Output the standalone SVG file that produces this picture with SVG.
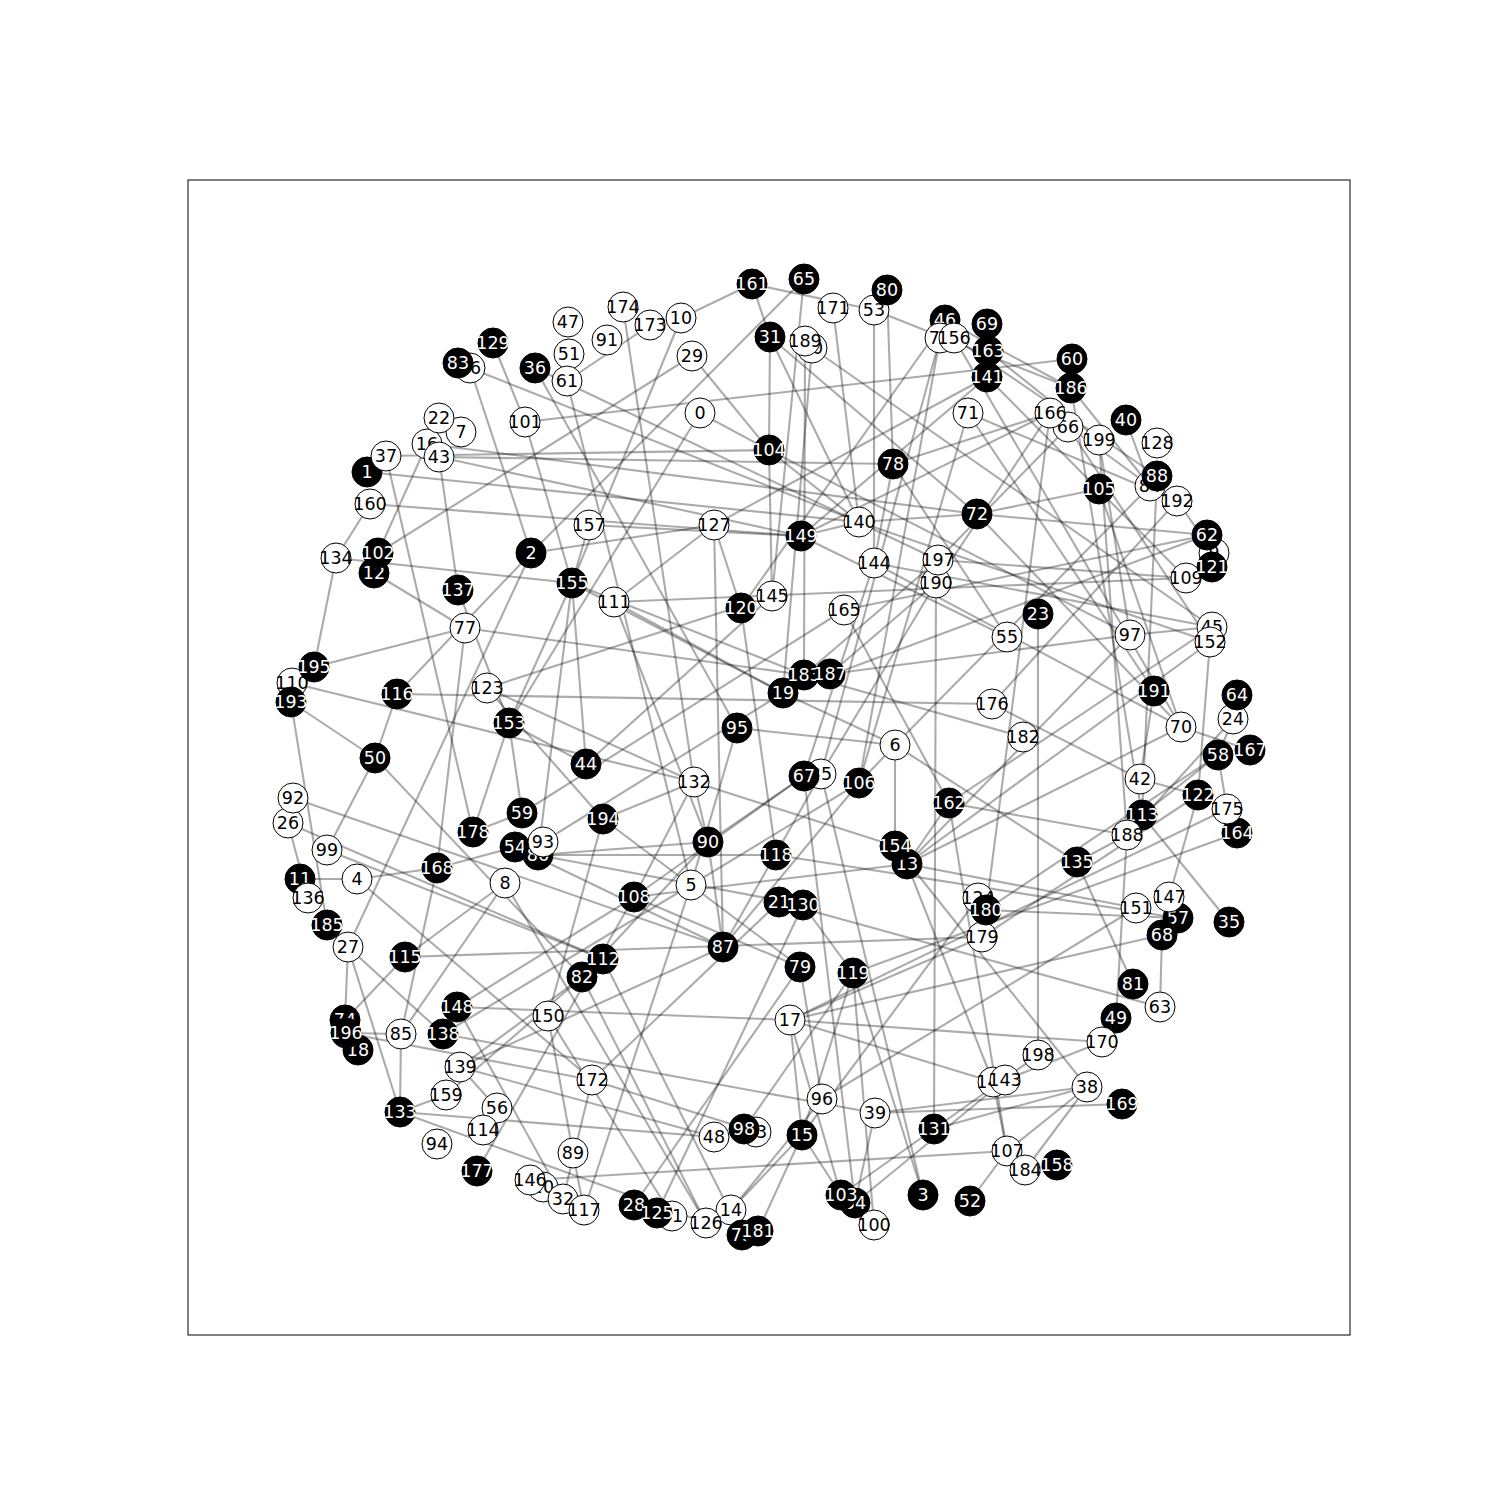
<svg xmlns="http://www.w3.org/2000/svg" width="1500" height="1500" viewBox="0 0 1500 1500">
<style>
.e line{stroke:#000;stroke-opacity:0.33;stroke-width:2.1}
.w circle{fill:#fff;stroke:#000;stroke-width:1}
.b circle{fill:#000;stroke:#000;stroke-width:1}
text{font-family:"DejaVu Sans","Liberation Sans",sans-serif;font-size:17.5px;text-anchor:middle;dominant-baseline:central}
.w text{fill:#000}
.b text{fill:#fff}
</style>
<rect x="188" y="180" width="1162" height="1155" fill="#fff" stroke="#000" stroke-width="1"/>
<g id="edges" class="e">
<line x1="681" y1="318" x2="752" y2="284"/>
<line x1="752" y1="284" x2="770" y2="337"/>
<line x1="752" y1="284" x2="874" y2="310"/>
<line x1="770" y1="337" x2="769" y2="450"/>
<line x1="769" y1="450" x2="772" y2="596"/>
<line x1="692" y1="356" x2="769" y2="450"/>
<line x1="700" y1="413" x2="769" y2="450"/>
<line x1="804" y1="279" x2="531" y2="553"/>
<line x1="804" y1="279" x2="772" y2="596"/>
<line x1="650" y1="325" x2="567" y2="381"/>
<line x1="470" y1="368" x2="531" y2="553"/>
<line x1="470" y1="368" x2="859" y2="522"/>
<line x1="493" y1="343" x2="525" y2="422"/>
<line x1="525" y1="422" x2="572" y2="583"/>
<line x1="525" y1="422" x2="1072" y2="359"/>
<line x1="439" y1="457" x2="893" y2="464"/>
<line x1="386" y1="456" x2="769" y2="450"/>
<line x1="439" y1="457" x2="801" y2="536"/>
<line x1="367" y1="472" x2="859" y2="522"/>
<line x1="370" y1="504" x2="801" y2="536"/>
<line x1="336" y1="558" x2="370" y2="504"/>
<line x1="336" y1="558" x2="314" y2="667"/>
<line x1="336" y1="558" x2="572" y2="583"/>
<line x1="378" y1="553" x2="427" y2="444"/>
<line x1="378" y1="553" x2="692" y2="356"/>
<line x1="374" y1="573" x2="465" y2="628"/>
<line x1="386" y1="456" x2="473" y2="832"/>
<line x1="439" y1="457" x2="458" y2="590"/>
<line x1="458" y1="590" x2="509" y2="723"/>
<line x1="465" y1="628" x2="314" y2="667"/>
<line x1="465" y1="628" x2="804" y2="675"/>
<line x1="465" y1="628" x2="437" y2="868"/>
<line x1="531" y1="553" x2="348" y2="947"/>
<line x1="531" y1="553" x2="397" y2="694"/>
<line x1="681" y1="318" x2="572" y2="583"/>
<line x1="572" y1="583" x2="509" y2="723"/>
<line x1="572" y1="583" x2="538" y2="855"/>
<line x1="589" y1="525" x2="572" y2="583"/>
<line x1="531" y1="553" x2="714" y2="525"/>
<line x1="714" y1="525" x2="741" y2="608"/>
<line x1="714" y1="525" x2="723" y2="947"/>
<line x1="714" y1="525" x2="614" y2="602"/>
<line x1="714" y1="525" x2="987" y2="377"/>
<line x1="589" y1="525" x2="801" y2="536"/>
<line x1="535" y1="368" x2="938" y2="560"/>
<line x1="535" y1="368" x2="737" y2="728"/>
<line x1="427" y1="444" x2="977" y2="514"/>
<line x1="700" y1="413" x2="509" y2="723"/>
<line x1="812" y1="348" x2="783" y2="693"/>
<line x1="805" y1="341" x2="804" y2="675"/>
<line x1="770" y1="337" x2="859" y2="522"/>
<line x1="770" y1="337" x2="977" y2="514"/>
<line x1="812" y1="348" x2="1212" y2="627"/>
<line x1="833" y1="308" x2="859" y2="522"/>
<line x1="874" y1="310" x2="874" y2="563"/>
<line x1="887" y1="290" x2="893" y2="464"/>
<line x1="893" y1="464" x2="874" y2="563"/>
<line x1="893" y1="464" x2="1050" y2="413"/>
<line x1="893" y1="464" x2="1007" y2="637"/>
<line x1="769" y1="450" x2="859" y2="522"/>
<line x1="769" y1="450" x2="1130" y2="635"/>
<line x1="801" y1="536" x2="859" y2="522"/>
<line x1="801" y1="536" x2="1050" y2="413"/>
<line x1="801" y1="536" x2="1007" y2="637"/>
<line x1="859" y1="522" x2="977" y2="514"/>
<line x1="859" y1="522" x2="1210" y2="642"/>
<line x1="614" y1="602" x2="1186" y2="578"/>
<line x1="938" y1="560" x2="1068" y2="427"/>
<line x1="940" y1="338" x2="859" y2="783"/>
<line x1="945" y1="320" x2="821" y2="774"/>
<line x1="945" y1="320" x2="741" y2="608"/>
<line x1="968" y1="413" x2="859" y2="783"/>
<line x1="987" y1="377" x2="801" y2="536"/>
<line x1="977" y1="514" x2="1099" y2="489"/>
<line x1="830" y1="674" x2="936" y2="583"/>
<line x1="830" y1="674" x2="1130" y2="635"/>
<line x1="977" y1="514" x2="1181" y2="727"/>
<line x1="1071" y1="388" x2="1142" y2="815"/>
<line x1="1071" y1="388" x2="1150" y2="486"/>
<line x1="1050" y1="413" x2="936" y2="583"/>
<line x1="1050" y1="413" x2="986" y2="910"/>
<line x1="1068" y1="427" x2="1210" y2="642"/>
<line x1="1050" y1="413" x2="1150" y2="486"/>
<line x1="1099" y1="440" x2="1130" y2="635"/>
<line x1="1099" y1="440" x2="1127" y2="835"/>
<line x1="1126" y1="420" x2="1150" y2="486"/>
<line x1="1150" y1="486" x2="895" y2="745"/>
<line x1="1157" y1="476" x2="1142" y2="815"/>
<line x1="1177" y1="501" x2="992" y2="704"/>
<line x1="1177" y1="501" x2="1214" y2="553"/>
<line x1="1207" y1="535" x2="844" y2="610"/>
<line x1="783" y1="693" x2="1207" y2="535"/>
<line x1="987" y1="377" x2="1186" y2="578"/>
<line x1="1038" y1="614" x2="1038" y2="1055"/>
<line x1="1130" y1="635" x2="1212" y2="627"/>
<line x1="1212" y1="627" x2="874" y2="563"/>
<line x1="1210" y1="642" x2="1198" y2="795"/>
<line x1="1210" y1="642" x2="907" y2="864"/>
<line x1="1154" y1="691" x2="1140" y2="779"/>
<line x1="1154" y1="691" x2="968" y2="413"/>
<line x1="1181" y1="727" x2="874" y2="563"/>
<line x1="1181" y1="727" x2="954" y2="338"/>
<line x1="1181" y1="727" x2="907" y2="864"/>
<line x1="1181" y1="727" x2="1250" y2="750"/>
<line x1="1233" y1="719" x2="1218" y2="755"/>
<line x1="1233" y1="719" x2="1127" y2="835"/>
<line x1="1218" y1="755" x2="1142" y2="815"/>
<line x1="1218" y1="755" x2="1227" y2="809"/>
<line x1="1218" y1="755" x2="986" y2="910"/>
<line x1="1140" y1="779" x2="992" y2="704"/>
<line x1="1140" y1="779" x2="1198" y2="795"/>
<line x1="1198" y1="795" x2="982" y2="937"/>
<line x1="1198" y1="795" x2="1169" y2="897"/>
<line x1="1227" y1="809" x2="790" y2="1020"/>
<line x1="1237" y1="833" x2="853" y2="973"/>
<line x1="1142" y1="815" x2="1229" y2="922"/>
<line x1="1127" y1="835" x2="1077" y2="862"/>
<line x1="1127" y1="835" x2="949" y2="803"/>
<line x1="1116" y1="1018" x2="1127" y2="835"/>
<line x1="1133" y1="984" x2="1077" y2="862"/>
<line x1="1160" y1="1007" x2="779" y2="902"/>
<line x1="1162" y1="935" x2="1160" y2="1007"/>
<line x1="907" y1="864" x2="1136" y2="908"/>
<line x1="1162" y1="935" x2="790" y2="1020"/>
<line x1="1178" y1="918" x2="776" y2="855"/>
<line x1="1178" y1="918" x2="986" y2="910"/>
<line x1="397" y1="694" x2="992" y2="704"/>
<line x1="783" y1="693" x2="895" y2="745"/>
<line x1="804" y1="675" x2="1023" y2="737"/>
<line x1="804" y1="675" x2="938" y2="560"/>
<line x1="895" y1="745" x2="1077" y2="862"/>
<line x1="895" y1="745" x2="859" y2="783"/>
<line x1="895" y1="745" x2="895" y2="846"/>
<line x1="895" y1="745" x2="737" y2="728"/>
<line x1="804" y1="776" x2="874" y2="563"/>
<line x1="821" y1="774" x2="936" y2="583"/>
<line x1="804" y1="776" x2="855" y2="1203"/>
<line x1="821" y1="774" x2="923" y2="1195"/>
<line x1="804" y1="776" x2="708" y2="842"/>
<line x1="821" y1="774" x2="723" y2="947"/>
<line x1="859" y1="783" x2="723" y2="947"/>
<line x1="949" y1="803" x2="1212" y2="627"/>
<line x1="949" y1="803" x2="907" y2="864"/>
<line x1="936" y1="583" x2="934" y2="1129"/>
<line x1="949" y1="803" x2="844" y2="610"/>
<line x1="907" y1="864" x2="1130" y2="635"/>
<line x1="949" y1="803" x2="1007" y2="1151"/>
<line x1="907" y1="864" x2="993" y2="1082"/>
<line x1="800" y1="967" x2="822" y2="1099"/>
<line x1="853" y1="973" x2="803" y2="905"/>
<line x1="853" y1="973" x2="874" y2="1225"/>
<line x1="853" y1="973" x2="802" y2="1135"/>
<line x1="853" y1="973" x2="923" y2="1195"/>
<line x1="790" y1="1020" x2="1102" y2="1042"/>
<line x1="790" y1="1020" x2="982" y2="937"/>
<line x1="790" y1="1020" x2="993" y2="1082"/>
<line x1="790" y1="1020" x2="802" y2="1135"/>
<line x1="790" y1="1020" x2="841" y2="1195"/>
<line x1="822" y1="1099" x2="1136" y2="908"/>
<line x1="822" y1="1099" x2="731" y2="1210"/>
<line x1="875" y1="1113" x2="1087" y2="1087"/>
<line x1="875" y1="1113" x2="855" y2="1203"/>
<line x1="934" y1="1129" x2="1087" y2="1087"/>
<line x1="802" y1="1135" x2="978" y2="898"/>
<line x1="802" y1="1135" x2="731" y2="1210"/>
<line x1="802" y1="1135" x2="758" y2="1231"/>
<line x1="802" y1="1135" x2="841" y2="1195"/>
<line x1="841" y1="1195" x2="1038" y2="1055"/>
<line x1="855" y1="1203" x2="1005" y2="1080"/>
<line x1="993" y1="1082" x2="1007" y2="1151"/>
<line x1="1005" y1="1080" x2="1102" y2="1042"/>
<line x1="1007" y1="1151" x2="1087" y2="1087"/>
<line x1="970" y1="1201" x2="1007" y2="1151"/>
<line x1="1087" y1="1087" x2="1025" y2="1170"/>
<line x1="1087" y1="1087" x2="895" y2="846"/>
<line x1="1122" y1="1104" x2="875" y2="1113"/>
<line x1="1057" y1="1165" x2="1025" y2="1170"/>
<line x1="744" y1="1129" x2="853" y2="973"/>
<line x1="530" y1="1180" x2="1007" y2="1151"/>
<line x1="582" y1="977" x2="706" y2="1223"/>
<line x1="548" y1="1016" x2="573" y2="1153"/>
<line x1="548" y1="1016" x2="672" y2="1216"/>
<line x1="457" y1="1007" x2="790" y2="1020"/>
<line x1="584" y1="1210" x2="691" y2="885"/>
<line x1="573" y1="1153" x2="584" y2="1210"/>
<line x1="563" y1="1199" x2="592" y2="1080"/>
<line x1="592" y1="1080" x2="756" y2="1132"/>
<line x1="603" y1="959" x2="742" y2="1235"/>
<line x1="634" y1="1205" x2="800" y2="967"/>
<line x1="657" y1="1213" x2="803" y2="905"/>
<line x1="779" y1="902" x2="592" y2="1080"/>
<line x1="706" y1="1223" x2="505" y2="883"/>
<line x1="586" y1="764" x2="772" y2="596"/>
<line x1="586" y1="764" x2="509" y2="723"/>
<line x1="586" y1="764" x2="572" y2="583"/>
<line x1="522" y1="813" x2="844" y2="610"/>
<line x1="603" y1="819" x2="694" y2="782"/>
<line x1="603" y1="819" x2="548" y2="1016"/>
<line x1="603" y1="819" x2="800" y2="967"/>
<line x1="603" y1="819" x2="487" y2="688"/>
<line x1="538" y1="855" x2="708" y2="842"/>
<line x1="538" y1="855" x2="776" y2="855"/>
<line x1="538" y1="855" x2="803" y2="905"/>
<line x1="543" y1="842" x2="783" y2="693"/>
<line x1="694" y1="782" x2="708" y2="842"/>
<line x1="694" y1="782" x2="634" y2="897"/>
<line x1="694" y1="782" x2="895" y2="846"/>
<line x1="694" y1="782" x2="623" y2="307"/>
<line x1="567" y1="381" x2="691" y2="885"/>
<line x1="737" y1="728" x2="691" y2="885"/>
<line x1="708" y1="842" x2="723" y2="947"/>
<line x1="708" y1="842" x2="582" y2="977"/>
<line x1="691" y1="885" x2="859" y2="783"/>
<line x1="634" y1="897" x2="804" y2="776"/>
<line x1="634" y1="897" x2="907" y2="864"/>
<line x1="634" y1="897" x2="800" y2="967"/>
<line x1="741" y1="608" x2="776" y2="855"/>
<line x1="572" y1="583" x2="804" y2="675"/>
<line x1="572" y1="583" x2="783" y2="693"/>
<line x1="614" y1="602" x2="783" y2="693"/>
<line x1="614" y1="602" x2="708" y2="842"/>
<line x1="487" y1="688" x2="772" y2="596"/>
<line x1="487" y1="688" x2="694" y2="782"/>
<line x1="292" y1="683" x2="694" y2="782"/>
<line x1="291" y1="702" x2="375" y2="758"/>
<line x1="291" y1="702" x2="327" y2="925"/>
<line x1="397" y1="694" x2="375" y2="758"/>
<line x1="509" y1="723" x2="473" y2="832"/>
<line x1="509" y1="723" x2="522" y2="813"/>
<line x1="473" y1="832" x2="522" y2="813"/>
<line x1="375" y1="758" x2="582" y2="977"/>
<line x1="375" y1="758" x2="327" y2="850"/>
<line x1="293" y1="798" x2="723" y2="947"/>
<line x1="288" y1="823" x2="603" y2="959"/>
<line x1="288" y1="823" x2="308" y2="898"/>
<line x1="327" y1="850" x2="603" y2="959"/>
<line x1="300" y1="879" x2="357" y2="879"/>
<line x1="357" y1="879" x2="437" y2="868"/>
<line x1="357" y1="879" x2="592" y2="1080"/>
<line x1="437" y1="868" x2="515" y2="847"/>
<line x1="437" y1="868" x2="401" y2="1034"/>
<line x1="401" y1="1034" x2="400" y2="1112"/>
<line x1="505" y1="883" x2="405" y2="957"/>
<line x1="405" y1="957" x2="345" y2="1020"/>
<line x1="505" y1="883" x2="401" y2="1034"/>
<line x1="405" y1="957" x2="982" y2="937"/>
<line x1="346" y1="1033" x2="401" y2="1034"/>
<line x1="346" y1="1033" x2="592" y2="1080"/>
<line x1="348" y1="947" x2="345" y2="1020"/>
<line x1="348" y1="947" x2="400" y2="1112"/>
<line x1="348" y1="947" x2="443" y2="1034"/>
<line x1="457" y1="1007" x2="634" y2="897"/>
<line x1="457" y1="1007" x2="563" y2="1199"/>
<line x1="443" y1="1034" x2="875" y2="1113"/>
<line x1="443" y1="1034" x2="691" y2="885"/>
<line x1="460" y1="1067" x2="582" y2="977"/>
<line x1="460" y1="1067" x2="723" y2="947"/>
<line x1="460" y1="1067" x2="714" y2="1137"/>
<line x1="460" y1="1067" x2="497" y2="1108"/>
<line x1="446" y1="1095" x2="400" y2="1112"/>
<line x1="446" y1="1095" x2="603" y2="959"/>
<line x1="400" y1="1112" x2="714" y2="1137"/>
<line x1="400" y1="1112" x2="706" y2="1223"/>
<line x1="477" y1="1171" x2="634" y2="897"/>
<line x1="515" y1="847" x2="723" y2="947"/>
<line x1="954" y1="338" x2="1157" y2="476"/>
<line x1="945" y1="320" x2="1071" y2="388"/>
<line x1="874" y1="310" x2="1071" y2="388"/>
<line x1="988" y1="351" x2="1099" y2="440"/>
<line x1="968" y1="413" x2="1177" y2="501"/>
<line x1="977" y1="514" x2="1207" y2="535"/>
<line x1="938" y1="560" x2="1186" y2="578"/>
<line x1="1099" y1="489" x2="1181" y2="727"/>
</g>
<g id="n0" class="w"><circle cx="700" cy="413" r="15"/><text x="700" y="413">0</text></g>
<g id="n1" class="b"><circle cx="367" cy="472" r="15"/><text x="367" y="472">1</text></g>
<g id="n2" class="b"><circle cx="531" cy="553" r="15"/><text x="531" y="553">2</text></g>
<g id="n3" class="b"><circle cx="923" cy="1195" r="15"/><text x="923" y="1195">3</text></g>
<g id="n4" class="w"><circle cx="357" cy="879" r="15"/><text x="357" y="879">4</text></g>
<g id="n5" class="w"><circle cx="691" cy="885" r="15"/><text x="691" y="885">5</text></g>
<g id="n6" class="w"><circle cx="895" cy="745" r="15"/><text x="895" y="745">6</text></g>
<g id="n7" class="w"><circle cx="461" cy="432" r="15"/><text x="461" y="432">7</text></g>
<g id="n8" class="w"><circle cx="505" cy="883" r="15"/><text x="505" y="883">8</text></g>
<g id="n9" class="w"><circle cx="1214" cy="553" r="15"/><text x="1214" y="553">9</text></g>
<g id="n10" class="w"><circle cx="681" cy="318" r="15"/><text x="681" y="318">10</text></g>
<g id="n11" class="b"><circle cx="300" cy="879" r="15"/><text x="300" y="879">11</text></g>
<g id="n12" class="b"><circle cx="374" cy="573" r="15"/><text x="374" y="573">12</text></g>
<g id="n13" class="b"><circle cx="907" cy="864" r="15"/><text x="907" y="864">13</text></g>
<g id="n14" class="w"><circle cx="731" cy="1210" r="15"/><text x="731" y="1210">14</text></g>
<g id="n15" class="b"><circle cx="802" cy="1135" r="15"/><text x="802" y="1135">15</text></g>
<g id="n16" class="w"><circle cx="427" cy="444" r="15"/><text x="427" y="444">16</text></g>
<g id="n17" class="w"><circle cx="790" cy="1020" r="15"/><text x="790" y="1020">17</text></g>
<g id="n18" class="b"><circle cx="358" cy="1050" r="15"/><text x="358" y="1050">18</text></g>
<g id="n19" class="b"><circle cx="783" cy="693" r="15"/><text x="783" y="693">19</text></g>
<g id="n20" class="w"><circle cx="543" cy="1187" r="15"/><text x="543" y="1187">20</text></g>
<g id="n21" class="b"><circle cx="779" cy="902" r="15"/><text x="779" y="902">21</text></g>
<g id="n22" class="w"><circle cx="439" cy="418" r="15"/><text x="439" y="418">22</text></g>
<g id="n23" class="b"><circle cx="1038" cy="614" r="15"/><text x="1038" y="614">23</text></g>
<g id="n24" class="w"><circle cx="1233" cy="719" r="15"/><text x="1233" y="719">24</text></g>
<g id="n25" class="w"><circle cx="821" cy="774" r="15"/><text x="821" y="774">25</text></g>
<g id="n26" class="w"><circle cx="288" cy="823" r="15"/><text x="288" y="823">26</text></g>
<g id="n27" class="w"><circle cx="348" cy="947" r="15"/><text x="348" y="947">27</text></g>
<g id="n28" class="b"><circle cx="634" cy="1205" r="15"/><text x="634" y="1205">28</text></g>
<g id="n29" class="w"><circle cx="692" cy="356" r="15"/><text x="692" y="356">29</text></g>
<g id="n30" class="w"><circle cx="812" cy="348" r="15"/><text x="812" y="348">30</text></g>
<g id="n31" class="b"><circle cx="770" cy="337" r="15"/><text x="770" y="337">31</text></g>
<g id="n32" class="w"><circle cx="563" cy="1199" r="15"/><text x="563" y="1199">32</text></g>
<g id="n33" class="w"><circle cx="756" cy="1132" r="15"/><text x="756" y="1132">33</text></g>
<g id="n34" class="b"><circle cx="855" cy="1203" r="15"/><text x="855" y="1203">34</text></g>
<g id="n35" class="b"><circle cx="1229" cy="922" r="15"/><text x="1229" y="922">35</text></g>
<g id="n36" class="b"><circle cx="535" cy="368" r="15"/><text x="535" y="368">36</text></g>
<g id="n37" class="w"><circle cx="386" cy="456" r="15"/><text x="386" y="456">37</text></g>
<g id="n38" class="w"><circle cx="1087" cy="1087" r="15"/><text x="1087" y="1087">38</text></g>
<g id="n39" class="w"><circle cx="875" cy="1113" r="15"/><text x="875" y="1113">39</text></g>
<g id="n40" class="b"><circle cx="1126" cy="420" r="15"/><text x="1126" y="420">40</text></g>
<g id="n41" class="w"><circle cx="672" cy="1216" r="15"/><text x="672" y="1216">41</text></g>
<g id="n42" class="w"><circle cx="1140" cy="779" r="15"/><text x="1140" y="779">42</text></g>
<g id="n43" class="w"><circle cx="439" cy="457" r="15"/><text x="439" y="457">43</text></g>
<g id="n44" class="b"><circle cx="586" cy="764" r="15"/><text x="586" y="764">44</text></g>
<g id="n45" class="w"><circle cx="1212" cy="627" r="15"/><text x="1212" y="627">45</text></g>
<g id="n46" class="b"><circle cx="945" cy="320" r="15"/><text x="945" y="320">46</text></g>
<g id="n47" class="w"><circle cx="568" cy="322" r="15"/><text x="568" y="322">47</text></g>
<g id="n48" class="w"><circle cx="714" cy="1137" r="15"/><text x="714" y="1137">48</text></g>
<g id="n49" class="b"><circle cx="1116" cy="1018" r="15"/><text x="1116" y="1018">49</text></g>
<g id="n50" class="b"><circle cx="375" cy="758" r="15"/><text x="375" y="758">50</text></g>
<g id="n51" class="w"><circle cx="569" cy="354" r="15"/><text x="569" y="354">51</text></g>
<g id="n52" class="b"><circle cx="970" cy="1201" r="15"/><text x="970" y="1201">52</text></g>
<g id="n53" class="w"><circle cx="874" cy="310" r="15"/><text x="874" y="310">53</text></g>
<g id="n54" class="b"><circle cx="515" cy="847" r="15"/><text x="515" y="847">54</text></g>
<g id="n55" class="w"><circle cx="1007" cy="637" r="15"/><text x="1007" y="637">55</text></g>
<g id="n56" class="w"><circle cx="497" cy="1108" r="15"/><text x="497" y="1108">56</text></g>
<g id="n57" class="b"><circle cx="1178" cy="918" r="15"/><text x="1178" y="918">57</text></g>
<g id="n58" class="b"><circle cx="1218" cy="755" r="15"/><text x="1218" y="755">58</text></g>
<g id="n59" class="b"><circle cx="522" cy="813" r="15"/><text x="522" y="813">59</text></g>
<g id="n60" class="b"><circle cx="1072" cy="359" r="15"/><text x="1072" y="359">60</text></g>
<g id="n61" class="w"><circle cx="567" cy="381" r="15"/><text x="567" y="381">61</text></g>
<g id="n62" class="b"><circle cx="1207" cy="535" r="15"/><text x="1207" y="535">62</text></g>
<g id="n63" class="w"><circle cx="1160" cy="1007" r="15"/><text x="1160" y="1007">63</text></g>
<g id="n64" class="b"><circle cx="1237" cy="695" r="15"/><text x="1237" y="695">64</text></g>
<g id="n65" class="b"><circle cx="804" cy="279" r="15"/><text x="804" y="279">65</text></g>
<g id="n66" class="w"><circle cx="1068" cy="427" r="15"/><text x="1068" y="427">66</text></g>
<g id="n67" class="b"><circle cx="804" cy="776" r="15"/><text x="804" y="776">67</text></g>
<g id="n68" class="b"><circle cx="1162" cy="935" r="15"/><text x="1162" y="935">68</text></g>
<g id="n69" class="b"><circle cx="987" cy="324" r="15"/><text x="987" y="324">69</text></g>
<g id="n70" class="w"><circle cx="1181" cy="727" r="15"/><text x="1181" y="727">70</text></g>
<g id="n71" class="w"><circle cx="968" cy="413" r="15"/><text x="968" y="413">71</text></g>
<g id="n72" class="b"><circle cx="977" cy="514" r="15"/><text x="977" y="514">72</text></g>
<g id="n73" class="b"><circle cx="742" cy="1235" r="15"/><text x="742" y="1235">73</text></g>
<g id="n74" class="b"><circle cx="345" cy="1020" r="15"/><text x="345" y="1020">74</text></g>
<g id="n75" class="w"><circle cx="940" cy="338" r="15"/><text x="940" y="338">75</text></g>
<g id="n76" class="w"><circle cx="470" cy="368" r="15"/><text x="470" y="368">76</text></g>
<g id="n77" class="w"><circle cx="465" cy="628" r="15"/><text x="465" y="628">77</text></g>
<g id="n78" class="b"><circle cx="893" cy="464" r="15"/><text x="893" y="464">78</text></g>
<g id="n79" class="b"><circle cx="800" cy="967" r="15"/><text x="800" y="967">79</text></g>
<g id="n80" class="b"><circle cx="887" cy="290" r="15"/><text x="887" y="290">80</text></g>
<g id="n81" class="b"><circle cx="1133" cy="984" r="15"/><text x="1133" y="984">81</text></g>
<g id="n82" class="b"><circle cx="582" cy="977" r="15"/><text x="582" y="977">82</text></g>
<g id="n83" class="b"><circle cx="458" cy="363" r="15"/><text x="458" y="363">83</text></g>
<g id="n84" class="w"><circle cx="1150" cy="486" r="15"/><text x="1150" y="486">84</text></g>
<g id="n85" class="w"><circle cx="401" cy="1034" r="15"/><text x="401" y="1034">85</text></g>
<g id="n86" class="b"><circle cx="538" cy="855" r="15"/><text x="538" y="855">86</text></g>
<g id="n87" class="b"><circle cx="723" cy="947" r="15"/><text x="723" y="947">87</text></g>
<g id="n88" class="b"><circle cx="1157" cy="476" r="15"/><text x="1157" y="476">88</text></g>
<g id="n89" class="w"><circle cx="573" cy="1153" r="15"/><text x="573" y="1153">89</text></g>
<g id="n90" class="b"><circle cx="708" cy="842" r="15"/><text x="708" y="842">90</text></g>
<g id="n91" class="w"><circle cx="607" cy="340" r="15"/><text x="607" y="340">91</text></g>
<g id="n92" class="w"><circle cx="293" cy="798" r="15"/><text x="293" y="798">92</text></g>
<g id="n93" class="w"><circle cx="543" cy="842" r="15"/><text x="543" y="842">93</text></g>
<g id="n94" class="w"><circle cx="437" cy="1144" r="15"/><text x="437" y="1144">94</text></g>
<g id="n95" class="b"><circle cx="737" cy="728" r="15"/><text x="737" y="728">95</text></g>
<g id="n96" class="w"><circle cx="822" cy="1099" r="15"/><text x="822" y="1099">96</text></g>
<g id="n97" class="w"><circle cx="1130" cy="635" r="15"/><text x="1130" y="635">97</text></g>
<g id="n98" class="b"><circle cx="744" cy="1129" r="15"/><text x="744" y="1129">98</text></g>
<g id="n99" class="w"><circle cx="327" cy="850" r="15"/><text x="327" y="850">99</text></g>
<g id="n100" class="w"><circle cx="874" cy="1225" r="15"/><text x="874" y="1225">100</text></g>
<g id="n101" class="w"><circle cx="525" cy="422" r="15"/><text x="525" y="422">101</text></g>
<g id="n102" class="b"><circle cx="378" cy="553" r="15"/><text x="378" y="553">102</text></g>
<g id="n103" class="b"><circle cx="841" cy="1195" r="15"/><text x="841" y="1195">103</text></g>
<g id="n104" class="b"><circle cx="769" cy="450" r="15"/><text x="769" y="450">104</text></g>
<g id="n105" class="b"><circle cx="1099" cy="489" r="15"/><text x="1099" y="489">105</text></g>
<g id="n106" class="b"><circle cx="859" cy="783" r="15"/><text x="859" y="783">106</text></g>
<g id="n107" class="w"><circle cx="1007" cy="1151" r="15"/><text x="1007" y="1151">107</text></g>
<g id="n108" class="b"><circle cx="634" cy="897" r="15"/><text x="634" y="897">108</text></g>
<g id="n109" class="w"><circle cx="1186" cy="578" r="15"/><text x="1186" y="578">109</text></g>
<g id="n110" class="w"><circle cx="292" cy="683" r="15"/><text x="292" y="683">110</text></g>
<g id="n111" class="w"><circle cx="614" cy="602" r="15"/><text x="614" y="602">111</text></g>
<g id="n112" class="b"><circle cx="603" cy="959" r="15"/><text x="603" y="959">112</text></g>
<g id="n113" class="b"><circle cx="1142" cy="815" r="15"/><text x="1142" y="815">113</text></g>
<g id="n114" class="w"><circle cx="483" cy="1130" r="15"/><text x="483" y="1130">114</text></g>
<g id="n115" class="b"><circle cx="405" cy="957" r="15"/><text x="405" y="957">115</text></g>
<g id="n116" class="b"><circle cx="397" cy="694" r="15"/><text x="397" y="694">116</text></g>
<g id="n117" class="w"><circle cx="584" cy="1210" r="15"/><text x="584" y="1210">117</text></g>
<g id="n118" class="b"><circle cx="776" cy="855" r="15"/><text x="776" y="855">118</text></g>
<g id="n119" class="b"><circle cx="853" cy="973" r="15"/><text x="853" y="973">119</text></g>
<g id="n120" class="b"><circle cx="741" cy="608" r="15"/><text x="741" y="608">120</text></g>
<g id="n121" class="b"><circle cx="1212" cy="567" r="15"/><text x="1212" y="567">121</text></g>
<g id="n122" class="b"><circle cx="1198" cy="795" r="15"/><text x="1198" y="795">122</text></g>
<g id="n123" class="w"><circle cx="487" cy="688" r="15"/><text x="487" y="688">123</text></g>
<g id="n124" class="w"><circle cx="978" cy="898" r="15"/><text x="978" y="898">124</text></g>
<g id="n125" class="b"><circle cx="657" cy="1213" r="15"/><text x="657" y="1213">125</text></g>
<g id="n126" class="w"><circle cx="706" cy="1223" r="15"/><text x="706" y="1223">126</text></g>
<g id="n127" class="w"><circle cx="714" cy="525" r="15"/><text x="714" y="525">127</text></g>
<g id="n128" class="w"><circle cx="1157" cy="443" r="15"/><text x="1157" y="443">128</text></g>
<g id="n129" class="b"><circle cx="493" cy="343" r="15"/><text x="493" y="343">129</text></g>
<g id="n130" class="b"><circle cx="803" cy="905" r="15"/><text x="803" y="905">130</text></g>
<g id="n131" class="b"><circle cx="934" cy="1129" r="15"/><text x="934" y="1129">131</text></g>
<g id="n132" class="w"><circle cx="694" cy="782" r="15"/><text x="694" y="782">132</text></g>
<g id="n133" class="b"><circle cx="400" cy="1112" r="15"/><text x="400" y="1112">133</text></g>
<g id="n134" class="w"><circle cx="336" cy="558" r="15"/><text x="336" y="558">134</text></g>
<g id="n135" class="b"><circle cx="1077" cy="862" r="15"/><text x="1077" y="862">135</text></g>
<g id="n136" class="w"><circle cx="308" cy="898" r="15"/><text x="308" y="898">136</text></g>
<g id="n137" class="b"><circle cx="458" cy="590" r="15"/><text x="458" y="590">137</text></g>
<g id="n138" class="b"><circle cx="443" cy="1034" r="15"/><text x="443" y="1034">138</text></g>
<g id="n139" class="w"><circle cx="460" cy="1067" r="15"/><text x="460" y="1067">139</text></g>
<g id="n140" class="w"><circle cx="859" cy="522" r="15"/><text x="859" y="522">140</text></g>
<g id="n141" class="b"><circle cx="987" cy="377" r="15"/><text x="987" y="377">141</text></g>
<g id="n142" class="w"><circle cx="993" cy="1082" r="15"/><text x="993" y="1082">142</text></g>
<g id="n143" class="w"><circle cx="1005" cy="1080" r="15"/><text x="1005" y="1080">143</text></g>
<g id="n144" class="w"><circle cx="874" cy="563" r="15"/><text x="874" y="563">144</text></g>
<g id="n145" class="w"><circle cx="772" cy="596" r="15"/><text x="772" y="596">145</text></g>
<g id="n146" class="w"><circle cx="530" cy="1180" r="15"/><text x="530" y="1180">146</text></g>
<g id="n147" class="w"><circle cx="1169" cy="897" r="15"/><text x="1169" y="897">147</text></g>
<g id="n148" class="b"><circle cx="457" cy="1007" r="15"/><text x="457" y="1007">148</text></g>
<g id="n149" class="b"><circle cx="801" cy="536" r="15"/><text x="801" y="536">149</text></g>
<g id="n150" class="w"><circle cx="548" cy="1016" r="15"/><text x="548" y="1016">150</text></g>
<g id="n151" class="w"><circle cx="1136" cy="908" r="15"/><text x="1136" y="908">151</text></g>
<g id="n152" class="w"><circle cx="1210" cy="642" r="15"/><text x="1210" y="642">152</text></g>
<g id="n153" class="b"><circle cx="509" cy="723" r="15"/><text x="509" y="723">153</text></g>
<g id="n154" class="b"><circle cx="895" cy="846" r="15"/><text x="895" y="846">154</text></g>
<g id="n155" class="b"><circle cx="572" cy="583" r="15"/><text x="572" y="583">155</text></g>
<g id="n156" class="w"><circle cx="954" cy="338" r="15"/><text x="954" y="338">156</text></g>
<g id="n157" class="w"><circle cx="589" cy="525" r="15"/><text x="589" y="525">157</text></g>
<g id="n158" class="b"><circle cx="1057" cy="1165" r="15"/><text x="1057" y="1165">158</text></g>
<g id="n159" class="w"><circle cx="446" cy="1095" r="15"/><text x="446" y="1095">159</text></g>
<g id="n160" class="w"><circle cx="370" cy="504" r="15"/><text x="370" y="504">160</text></g>
<g id="n161" class="b"><circle cx="752" cy="284" r="15"/><text x="752" y="284">161</text></g>
<g id="n162" class="b"><circle cx="949" cy="803" r="15"/><text x="949" y="803">162</text></g>
<g id="n163" class="b"><circle cx="988" cy="351" r="15"/><text x="988" y="351">163</text></g>
<g id="n164" class="b"><circle cx="1237" cy="833" r="15"/><text x="1237" y="833">164</text></g>
<g id="n165" class="w"><circle cx="844" cy="610" r="15"/><text x="844" y="610">165</text></g>
<g id="n166" class="w"><circle cx="1050" cy="413" r="15"/><text x="1050" y="413">166</text></g>
<g id="n167" class="b"><circle cx="1250" cy="750" r="15"/><text x="1250" y="750">167</text></g>
<g id="n168" class="b"><circle cx="437" cy="868" r="15"/><text x="437" y="868">168</text></g>
<g id="n169" class="b"><circle cx="1122" cy="1104" r="15"/><text x="1122" y="1104">169</text></g>
<g id="n170" class="w"><circle cx="1102" cy="1042" r="15"/><text x="1102" y="1042">170</text></g>
<g id="n171" class="w"><circle cx="833" cy="308" r="15"/><text x="833" y="308">171</text></g>
<g id="n172" class="w"><circle cx="592" cy="1080" r="15"/><text x="592" y="1080">172</text></g>
<g id="n173" class="w"><circle cx="650" cy="325" r="15"/><text x="650" y="325">173</text></g>
<g id="n174" class="w"><circle cx="623" cy="307" r="15"/><text x="623" y="307">174</text></g>
<g id="n175" class="w"><circle cx="1227" cy="809" r="15"/><text x="1227" y="809">175</text></g>
<g id="n176" class="w"><circle cx="992" cy="704" r="15"/><text x="992" y="704">176</text></g>
<g id="n177" class="b"><circle cx="477" cy="1171" r="15"/><text x="477" y="1171">177</text></g>
<g id="n178" class="b"><circle cx="473" cy="832" r="15"/><text x="473" y="832">178</text></g>
<g id="n179" class="w"><circle cx="982" cy="937" r="15"/><text x="982" y="937">179</text></g>
<g id="n180" class="b"><circle cx="986" cy="910" r="15"/><text x="986" y="910">180</text></g>
<g id="n181" class="b"><circle cx="758" cy="1231" r="15"/><text x="758" y="1231">181</text></g>
<g id="n182" class="w"><circle cx="1023" cy="737" r="15"/><text x="1023" y="737">182</text></g>
<g id="n183" class="b"><circle cx="804" cy="675" r="15"/><text x="804" y="675">183</text></g>
<g id="n184" class="w"><circle cx="1025" cy="1170" r="15"/><text x="1025" y="1170">184</text></g>
<g id="n185" class="b"><circle cx="327" cy="925" r="15"/><text x="327" y="925">185</text></g>
<g id="n186" class="b"><circle cx="1071" cy="388" r="15"/><text x="1071" y="388">186</text></g>
<g id="n187" class="b"><circle cx="830" cy="674" r="15"/><text x="830" y="674">187</text></g>
<g id="n188" class="w"><circle cx="1127" cy="835" r="15"/><text x="1127" y="835">188</text></g>
<g id="n189" class="w"><circle cx="805" cy="341" r="15"/><text x="805" y="341">189</text></g>
<g id="n190" class="w"><circle cx="936" cy="583" r="15"/><text x="936" y="583">190</text></g>
<g id="n191" class="b"><circle cx="1154" cy="691" r="15"/><text x="1154" y="691">191</text></g>
<g id="n192" class="w"><circle cx="1177" cy="501" r="15"/><text x="1177" y="501">192</text></g>
<g id="n193" class="b"><circle cx="291" cy="702" r="15"/><text x="291" y="702">193</text></g>
<g id="n194" class="b"><circle cx="603" cy="819" r="15"/><text x="603" y="819">194</text></g>
<g id="n195" class="b"><circle cx="314" cy="667" r="15"/><text x="314" y="667">195</text></g>
<g id="n196" class="b"><circle cx="346" cy="1033" r="15"/><text x="346" y="1033">196</text></g>
<g id="n197" class="w"><circle cx="938" cy="560" r="15"/><text x="938" y="560">197</text></g>
<g id="n198" class="w"><circle cx="1038" cy="1055" r="15"/><text x="1038" y="1055">198</text></g>
<g id="n199" class="w"><circle cx="1099" cy="440" r="15"/><text x="1099" y="440">199</text></g>
</svg>
